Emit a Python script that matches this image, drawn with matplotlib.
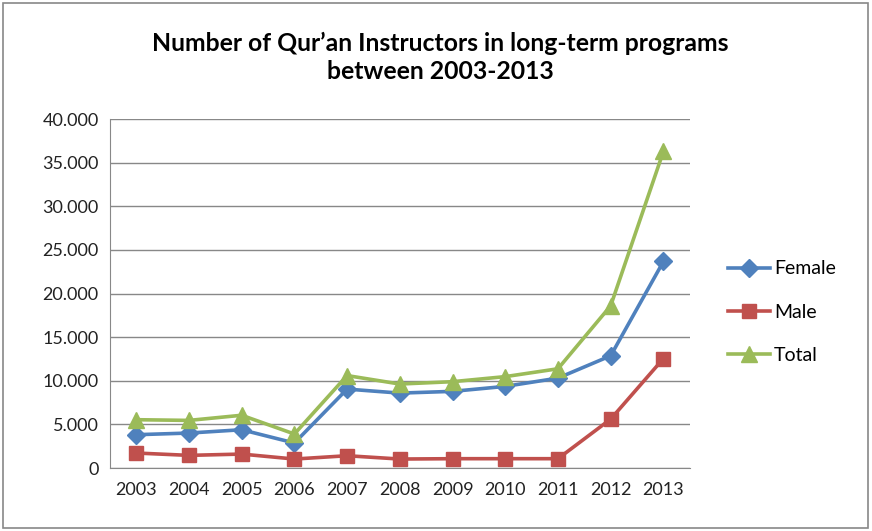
import matplotlib.pyplot as plt
from matplotlib.ticker import FuncFormatter

# values
years = ["2003", "2004", "2005", "2006", "2007", "2008", "2009", "2010", "2011", "2012", "2013"]
female = [3820, 4010, 4390, 2870, 9050, 8590, 8790, 9360, 10310, 12870, 23680]
male = [1720, 1450, 1600, 1030, 1410, 1030, 1070, 1070, 1070, 5610, 12550]
total = [5540, 5460, 6050, 3900, 10600, 9630, 9900, 10480, 11380, 18600, 36300]

plt.rcParams['font.family'] = ['Lato', 'DejaVu Sans']

fig = plt.figure(figsize=(8.72, 5.31), dpi=100)
ax = fig.add_axes([0.126, 0.1186, 0.665, 0.657])

x = range(len(years))
ax.plot(x, female, color='#4F81BD', lw=2.6, marker='D', ms=9, label='Female')
ax.plot(x, male, color='#C0504D', lw=2.6, marker='s', ms=10, label='Male')
ax.plot(x, total, color='#9BBB59', lw=2.6, marker='^', ms=12, label='Total')

ax.set_xlim(-0.5, len(years) - 0.5)
ax.set_ylim(0, 40000)
ax.set_yticks(range(0, 40001, 5000))
ax.yaxis.set_major_formatter(FuncFormatter(lambda v, p: '0' if v == 0 else f'{v/1000:.3f}'))
ax.set_xticks(list(x))
ax.set_xticklabels(years)
ax.tick_params(axis='both', labelsize=13, length=0, colors='#222222')
ax.tick_params(axis='x', pad=10)
ax.tick_params(axis='y', pad=8)

ax.grid(axis='y', color='#888888', lw=1)
ax.set_axisbelow(True)
for s in ['top', 'right']:
    ax.spines[s].set_visible(False)
for s in ['left', 'bottom']:
    ax.spines[s].set_color('#888888')

fig.text(0.505, 0.892, "Number of Qur\u2019an Instructors in long-term programs\nbetween 2003-2013",
         ha='center', va='center', fontsize=17.8, fontweight='bold', linespacing=1.3)

ax.legend(loc='center left', bbox_to_anchor=(1.035, 0.447), frameon=False,
          fontsize=14, handlelength=2.2, labelspacing=1.35, handletextpad=0.2)

# outer chart border
fig.patches.append(plt.Rectangle((0.004, 0.006), 0.991, 0.988, transform=fig.transFigure,
                                 fill=False, edgecolor='#888888', lw=1.2))

fig.savefig('out.png', dpi=100)
